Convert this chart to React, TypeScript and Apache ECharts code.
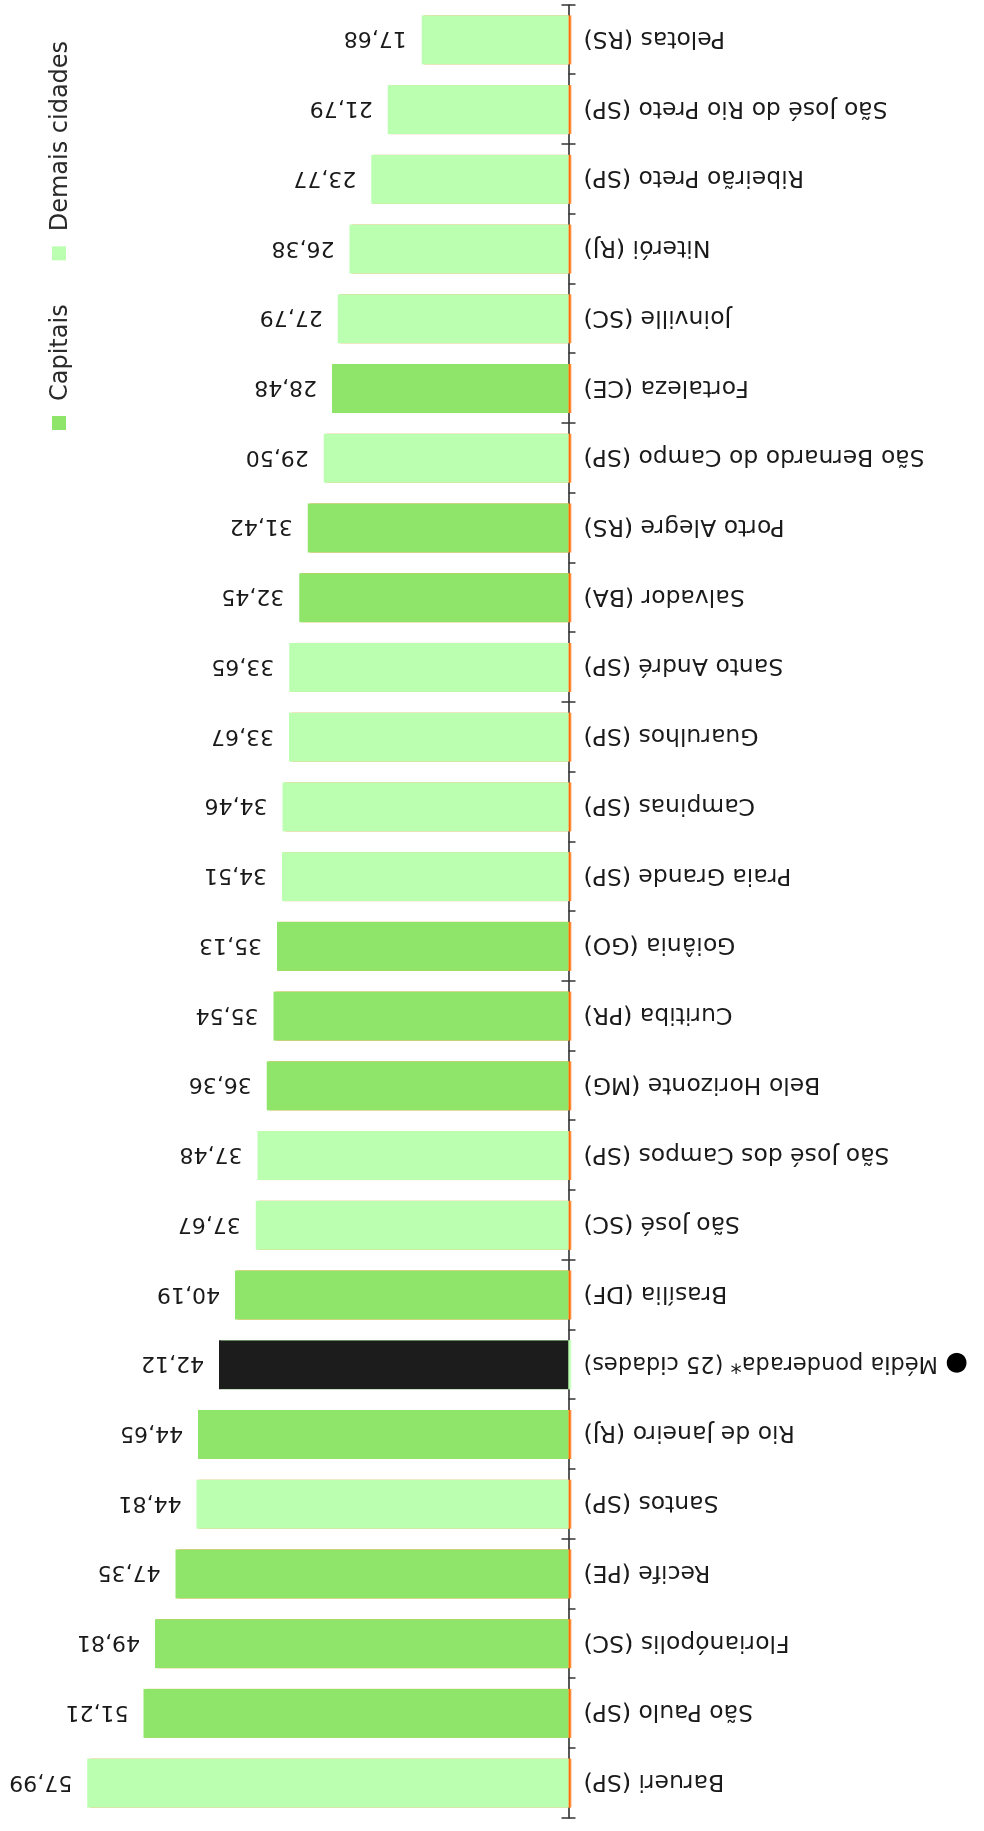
import React, { useEffect, useRef } from "react";
import * as echarts from "echarts";

const categories = [
  "Barueri (SP)",
  "São Paulo (SP)",
  "Florianópolis (SC)",
  "Recife (PE)",
  "Santos (SP)",
  "Rio de Janeiro (RJ)",
  "Média ponderada* (25 cidades)",
  "Brasília (DF)",
  "São José (SC)",
  "São José dos Campos (SP)",
  "Belo Horizonte (MG)",
  "Curitiba (PR)",
  "Goiânia (GO)",
  "Praia Grande (SP)",
  "Campinas (SP)",
  "Guarulhos (SP)",
  "Santo André (SP)",
  "Salvador (BA)",
  "Porto Alegre (RS)",
  "São Bernardo do Campo (SP)",
  "Fortaleza (CE)",
  "Joinville (SC)",
  "Niterói (RJ)",
  "Ribeirão Preto (SP)",
  "São José do Rio Preto (SP)",
  "Pelotas (RS)",
];

const values = [
  57.99, 51.21, 49.81, 47.35, 44.81, 44.65, 42.12, 40.19, 37.67, 37.48, 36.36,
  35.54, 35.13, 34.51, 34.46, 33.67, 33.65, 32.45, 31.42, 29.5, 28.48, 27.79,
  26.38, 23.77, 21.79, 17.68,
];

// C = capital, D = demais cidades, M = média ponderada
const groups = [
  "D", "C", "C", "C", "D", "C", "M", "C", "D", "D", "C", "C", "C", "D", "D",
  "D", "D", "C", "C", "D", "C", "D", "D", "D", "D", "D",
];

const legendNames = ["Capitais", "Demais cidades"];
const AVG_LABEL = "Média ponderada* (25 cidades)";

const COLOR_CAP = "#8fe56a";
const COLOR_DEM = "#bbffb0";
const COLOR_AVG = "#1f1f1f";
const COLOR_BASE = "#ff6a00";

const FONT = "DejaVu Sans";

export default function App() {
  const ref = useRef<HTMLDivElement>(null);

  useEffect(() => {
    if (!ref.current) return;
    const chart = echarts.init(ref.current, null, {
      renderer: "svg",
      width: 1831,
      height: 984,
    });

    const pick = (g: string) =>
      values.map((v, i) => (groups[i] === g ? v : "-"));

    const fmt = (p: any) =>
      typeof p.value === "number" ? p.value.toFixed(2).replace(".", ",") : "";

    const label = {
      show: true,
      position: "top",
      rotate: 90,
      align: "left",
      verticalAlign: "middle",
      distance: 15,
      fontFamily: FONT,
      fontSize: 22,
      color: "#1a1a1a",
      formatter: fmt,
    };

    const mkSeries = (name: string, g: string, color: string, shadow: string) => ({
      name,
      type: "bar",
      stack: "total",
      barWidth: 49,
      data: pick(g),
      itemStyle: {
        color,
        shadowColor: shadow,
        shadowBlur: 0,
        shadowOffsetY: 2.5,
      },
      label,
      emphasis: { disabled: true },
    });

    chart.setOption({
      animation: false,
      backgroundColor: "#ffffff",
      legend: {
        data: legendNames,
        left: 1401,
        top: 47,
        padding: 0,
        icon: "rect",
        itemWidth: 14,
        itemHeight: 14,
        itemGap: 44,
        textStyle: {
          fontFamily: FONT,
          fontSize: 24,
          color: "#2a2a2a",
          padding: [0, 0, 0, 10],
        },
      },
      grid: {
        left: 13,
        right: 5,
        top: 70.5,
        bottom: 415.5,
        containLabel: false,
        outerBoundsMode: "none",
      },
      xAxis: [
        {
          type: "category",
          data: categories,
          position: "bottom",
          axisLine: { show: true, lineStyle: { color: "#222", width: 1.5 } },
          axisTick: {
            show: true,
            inside: false,
            length: 7,
            lineStyle: { color: "#333", width: 1.5 },
          },
          axisLabel: {
            rotate: 90,
            margin: 15,
            interval: 0,
            fontFamily: FONT,
            fontSize: 23.5,
            color: "#1a1a1a",
            formatter: (v: string) =>
              v === AVG_LABEL ? "{dot|●}{t| " + v + "}" : v,
            rich: {
              dot: { fontSize: 26, color: "#000", fontFamily: FONT },
              t: { fontSize: 22.5, color: "#1a1a1a", fontFamily: FONT },
            },
          },
        },
        {
          type: "category",
          data: categories,
          position: "bottom",
          axisLine: { show: false },
          axisTick: {
            show: true,
            inside: true,
            length: 7,
            lineStyle: { color: "#333", width: 1.5 },
          },
          axisLabel: { show: false },
        },
      ],
      yAxis: {
        type: "value",
        min: 0,
        max: 60,
        show: false,
      },
      series: [
        mkSeries("Capitais", "C", COLOR_CAP, COLOR_BASE),
        mkSeries("Demais cidades", "D", COLOR_DEM, COLOR_BASE),
        mkSeries("Média ponderada", "M", COLOR_AVG, COLOR_DEM),
      ],
    });

    return () => chart.dispose();
  }, []);

  return (
    <div
      style={{
        position: "fixed",
        left: 0,
        top: 0,
        width: 1831,
        height: 984,
        background: "#fff",
        transformOrigin: "0 0",
        transform: "translateY(1831px) rotate(-90deg)",
      }}
    >
      <div ref={ref} style={{ width: 1831, height: 984 }} />
    </div>
  );
}
